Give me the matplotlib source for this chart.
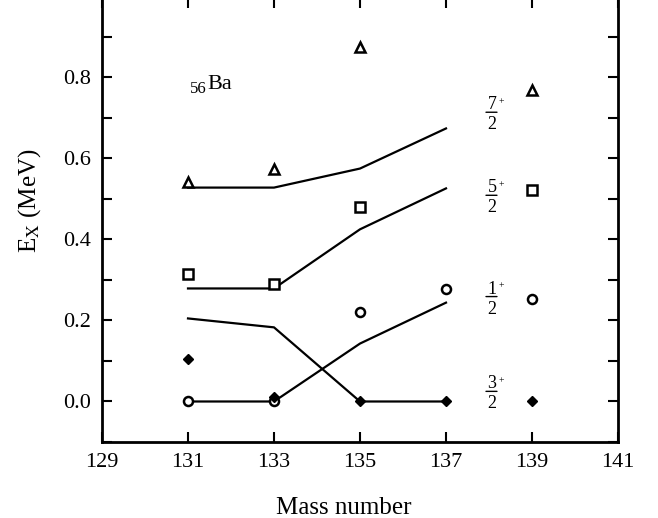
import matplotlib
matplotlib.use("Agg")
import matplotlib.pyplot as plt
from matplotlib.ticker import MultipleLocator

plt.rcParams["font.family"] = ["Liberation Serif", "DejaVu Serif"]
plt.rcParams["mathtext.fontset"] = "stix"

# mass numbers
a_exp = [131, 133, 135, 139]
a_all = [131, 133, 135, 137, 139]
a_calc = [131, 133, 135, 137]
x_ticks = [129, 131, 133, 135, 137, 139, 141]

# experimental levels (MeV)
exp_72 = [0.543, 0.575, 0.874, 0.770]
exp_52 = [0.314, 0.289, 0.481, 0.523]
exp_12 = [0.0, 0.0, 0.220, 0.277, 0.254]
exp_32 = [0.106, 0.010, 0.0, 0.0, 0.0]

# calculated levels (MeV)
calc_72 = [0.528, 0.528, 0.575, 0.674]
calc_52 = [0.279, 0.279, 0.425, 0.526]
calc_12 = [0.0, 0.0, 0.143, 0.244]
calc_32 = [0.205, 0.183, 0.0, 0.0]

# spin labels (numerator over 2) and height of fraction bar
spin_num = ["7", "5", "1", "3"]
spin_y = [0.714, 0.509, 0.259, 0.025]
spin_x = 137.93

fig = plt.figure(figsize=(6.58, 5.18), dpi=100)
ax = fig.add_axes([102 / 658, 1 - 442 / 518, 516 / 658, 444 / 518])

for calc in [calc_72, calc_52, calc_12, calc_32]:
    ax.plot(a_calc, calc, color="black", lw=1.6, zorder=2)

mk = dict(ms=6.5, mew=1.8, ls="none", color="black", zorder=3)
ax.plot(a_exp, exp_72, marker="^", mfc="white", **mk)
ax.plot(a_exp, exp_52, marker="s", mfc="white", **mk)
ax.plot(a_all, exp_12, marker="o", mfc="white", **mk)
ax.plot(a_all, exp_32, marker="D", mfc="black", ms=5.5, mew=1, ls="none", color="black", zorder=4)

ax.set_xlim(129, 141)
ax.set_ylim(-0.1, 0.996)
ax.set_xticks(x_ticks)
ax.yaxis.set_major_locator(MultipleLocator(0.2))
ax.yaxis.set_minor_locator(MultipleLocator(0.1))
ax.yaxis.set_major_formatter(plt.FuncFormatter(lambda v, p: f"{v:.1f}"))
ax.tick_params(which="both", direction="in", top=True, right=True, width=1.5, labelsize=16, pad=8)
ax.tick_params(which="major", length=7)
ax.tick_params(which="minor", length=7)
for s in ax.spines.values():
    s.set_linewidth(2)

ax.set_xlabel("Mass number", fontsize=18)
ax.xaxis.set_label_coords(0.469, -0.125)
ax.set_ylabel(r"E$_{\rm X}$ (MeV)", fontsize=18)
ax.yaxis.set_label_coords(-0.115, 0.543)

# 56Ba label
ax.text(131.45, 0.772, "Ba", fontsize=16, ha="left", va="baseline")
ax.annotate("56", xy=(131.45, 0.772), xytext=(-1, -4), textcoords="offset pixels",
            fontsize=12, ha="right", va="baseline")

# spin-parity labels drawn as stacked fractions
for n, y in zip(spin_num, spin_y):
    ax.annotate(n, xy=(spin_x, y), xytext=(6, 3), textcoords="offset pixels",
                fontsize=13, ha="center", va="baseline")
    ax.annotate("2", xy=(spin_x, y), xytext=(6, -4), textcoords="offset pixels",
                fontsize=13, ha="center", va="top")
    ax.annotate("+", xy=(spin_x, y), xytext=(13, 8), textcoords="offset pixels",
                fontsize=7, ha="left", va="baseline")
    ax.annotate("", xy=(spin_x, y), xytext=(11, 0), textcoords="offset pixels",
                arrowprops=dict(arrowstyle="-", lw=1, shrinkA=0, shrinkB=0))

fig.savefig("out.png", dpi=100)
